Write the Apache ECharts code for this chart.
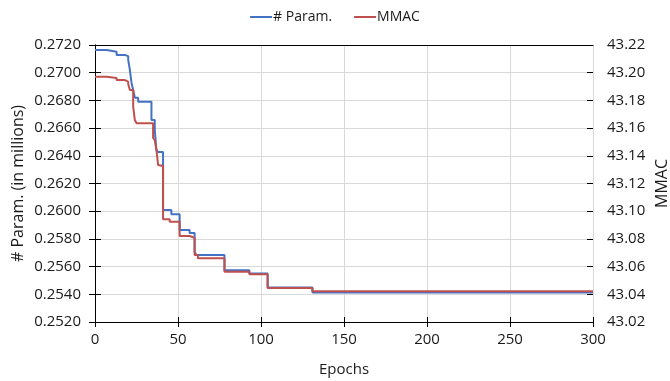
<!DOCTYPE html>
<html>
<head>
<meta charset="utf-8">
<script src="https://cdn.jsdelivr.net/npm/echarts@6/dist/echarts.min.js"></script>
<style>html,body{margin:0;padding:0;background:#fff}#c{width:670px;height:381px}</style>
</head>
<body>
<div id="c"></div>
<script>
const paramEpochs = [0, 7, 13, 18, 20, 21, 22, 23, 24, 26, 34, 36, 37, 38, 41, 46, 51, 57, 60, 61, 78, 93, 104, 131, 300];
const paramValues = [0.27164, 0.27152, 0.27128, 0.2712, 0.27092, 0.2702, 0.26926, 0.26875, 0.2682, 0.2679, 0.26658, 0.26586, 0.26442, 0.26427, 0.26009, 0.25978, 0.25864, 0.25843, 0.25708, 0.25684, 0.25574, 0.2555, 0.2545, 0.25413, 0.25413];
const mmacEpochs = [0, 7, 13, 18, 20, 21, 23, 24, 25, 35, 36, 37, 38, 39, 41, 45, 51, 57, 60, 62, 78, 93, 104, 131, 300];
const mmacValues = [43.1971, 43.1962, 43.1947, 43.1935, 43.1918, 43.1875, 43.1755, 43.1658, 43.1635, 43.1529, 43.1514, 43.1442, 43.1334, 43.1326, 43.0942, 43.0924, 43.0821, 43.0807, 43.0684, 43.066, 43.0563, 43.0544, 43.0446, 43.0422, 43.0422];
const xTicks = [0, 50, 100, 150, 200, 250, 300];
const leftTicks = ['0.2520','0.2540','0.2560','0.2580','0.2600','0.2620','0.2640','0.2660','0.2680','0.2700','0.2720'];
const rightTicks = ['43.02','43.04','43.06','43.08','43.10','43.12','43.14','43.16','43.18','43.20','43.22'];

const FONT = 'Open Sans';
const TXT = '#1a1a1a';
const chart = echarts.init(document.getElementById('c'), null, {renderer: 'canvas'});
const blue = '#4472C4', red = '#C0504D';
const lineAxis = {lineStyle: {color: '#000', width: 1}};
chart.setOption({
  animation: false,
  textStyle: {fontFamily: FONT},
  legend: {
    top: 5, left: 'center', itemGap: 22, itemWidth: 22, itemHeight: 2, icon: 'rect',
    textStyle: {fontFamily: FONT, fontSize: 14, color: TXT, padding: [0, 0, 0, -4]},
    data: ['# Param.', 'MMAC']
  },
  grid: {left: 95, right: 77, top: 45, bottom: 59, outerBoundsMode: 'none', containLabel: false},
  xAxis: [
    {type: 'value', min: 0, max: 300, interval: 50,
     name: 'Epochs', nameLocation: 'middle', nameGap: 40,
     nameTextStyle: {fontFamily: FONT, fontSize: 15, color: TXT},
     axisLine: lineAxis, axisTick: {show: true, length: 5, lineStyle: {color: '#000'}},
     axisLabel: {fontFamily: FONT, fontSize: 15, color: TXT, margin: 10,
       formatter: v => xTicks.includes(v) ? String(v) : ''},
     splitLine: {show: true, lineStyle: {color: '#d9d9d9', width: 1}}},
    {type: 'value', min: 0, max: 300, interval: 50, position: 'bottom',
     axisLine: {show: false}, axisTick: {show: true, inside: true, length: 5, lineStyle: {color: '#000'}},
     axisLabel: {show: false}, splitLine: {show: false}},
    {type: 'value', min: 0, max: 300, position: 'top',
     axisLine: lineAxis, axisTick: {show: false}, axisLabel: {show: false}, splitLine: {show: false}}
  ],
  yAxis: [
    {type: 'value', min: 0.252, max: 0.272, interval: 0.002, position: 'left',
     name: '# Param. (in millions)', nameLocation: 'middle', nameGap: 69, nameRotate: 90,
     nameMoveOverlap: false,
     nameTextStyle: {fontFamily: FONT, fontSize: 16, color: TXT},
     axisLine: {show: true, lineStyle: {color: '#000'}},
     axisTick: {show: true, length: 6, lineStyle: {color: '#000'}},
     axisLabel: {fontFamily: FONT, fontSize: 15, color: TXT, margin: 14,
       formatter: v => leftTicks[Math.round((v - 0.252) / 0.002)]},
     splitLine: {show: true, lineStyle: {color: '#d9d9d9', width: 1}}},
    {type: 'value', min: 43.02, max: 43.22, interval: 0.02, position: 'right',
     name: 'MMAC', nameLocation: 'middle', nameGap: 61, nameRotate: 90,
     nameMoveOverlap: false,
     nameTextStyle: {fontFamily: FONT, fontSize: 16, color: TXT},
     axisLine: {show: true, lineStyle: {color: '#000'}},
     axisTick: {show: true, length: 6, lineStyle: {color: '#000'}},
     axisLabel: {fontFamily: FONT, fontSize: 15, color: TXT, margin: 14,
       formatter: v => rightTicks[Math.round((v - 43.02) / 0.02)]},
     splitLine: {show: false}},
    {type: 'value', min: 0.252, max: 0.272, interval: 0.002, position: 'left',
     axisLine: {show: false}, axisTick: {show: true, inside: true, length: 6, lineStyle: {color: '#000'}},
     axisLabel: {show: false}, splitLine: {show: false}},
    {type: 'value', min: 43.02, max: 43.22, interval: 0.02, position: 'right',
     axisLine: {show: false}, axisTick: {show: true, inside: true, length: 6, lineStyle: {color: '#000'}},
     axisLabel: {show: false}, splitLine: {show: false}}
  ],
  series: [
    {name: '# Param.', type: 'line', xAxisIndex: 0, yAxisIndex: 0, step: 'end', symbol: 'none',
     lineStyle: {color: blue, width: 2}, itemStyle: {color: blue}, z: 3,
     data: paramEpochs.map((e, i) => [e, paramValues[i]])},
    {name: 'MMAC', type: 'line', xAxisIndex: 0, yAxisIndex: 1, step: 'end', symbol: 'none',
     lineStyle: {color: red, width: 2}, itemStyle: {color: red}, z: 4,
     data: mmacEpochs.map((e, i) => [e, mmacValues[i]])}
  ]
});
</script>
</body>
</html>
